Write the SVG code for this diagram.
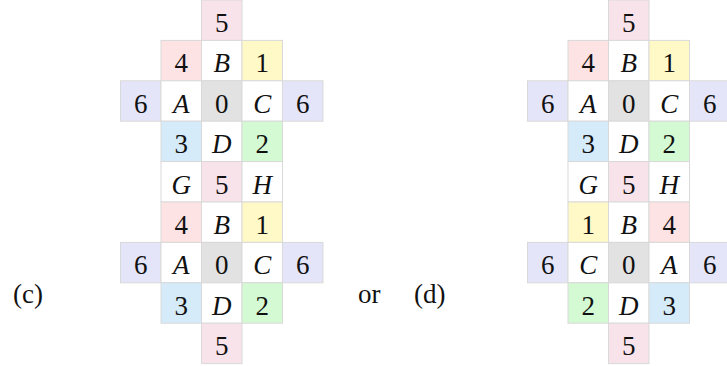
<svg xmlns="http://www.w3.org/2000/svg" width="727" height="366" viewBox="0 0 727 366">
<style>
rect{stroke:#d9d9d9;stroke-width:1;fill:#ffffff}
.p{fill:#f9e3ea}.r{fill:#fde3e3}.y{fill:#fef9c6}.v{fill:#e5e5fa}.g{fill:#e2e2e2}.b{fill:#d5ebf9}.n{fill:#d4fad4}
text{font-family:"Liberation Serif","DejaVu Serif",serif;font-size:27px;text-anchor:middle;fill:#111}
.i{font-style:italic}
.lab{text-anchor:start}
</style>
<rect x="0" y="0" width="727" height="366" style="fill:#fff;stroke:none"/>
<g id="c-diagram">
<g id="c-r0"><rect class="p" x="201.5" y="0" width="40.5" height="40.4"/><text x="221.7" y="32">5</text></g>
<g id="c-r1">
<rect class="r" x="161" y="40.4" width="40.5" height="40.4"/><text x="181.2" y="72.4">4</text>
<rect x="201.5" y="40.4" width="40.5" height="40.4"/><text class="i" x="221.7" y="72.4">B</text>
<rect class="y" x="242" y="40.4" width="40.5" height="40.4"/><text x="262.2" y="72.4">1</text>
</g>
<g id="c-r2">
<rect class="v" x="120.5" y="80.8" width="40.5" height="40.4"/><text x="140.7" y="112.8">6</text>
<rect x="161" y="80.8" width="40.5" height="40.4"/><text class="i" x="181.2" y="112.8">A</text>
<rect class="g" x="201.5" y="80.8" width="40.5" height="40.4"/><text x="221.7" y="112.8">0</text>
<rect x="242" y="80.8" width="40.5" height="40.4"/><text class="i" x="262.2" y="112.8">C</text>
<rect class="v" x="282.5" y="80.8" width="40.5" height="40.4"/><text x="302.7" y="112.8">6</text>
</g>
<g id="c-r3">
<rect class="b" x="161" y="121.2" width="40.5" height="40.4"/><text x="181.2" y="153.2">3</text>
<rect x="201.5" y="121.2" width="40.5" height="40.4"/><text class="i" x="221.7" y="153.2">D</text>
<rect class="n" x="242" y="121.2" width="40.5" height="40.4"/><text x="262.2" y="153.2">2</text>
</g>
<g id="c-r4">
<rect x="161" y="161.6" width="40.5" height="40.4"/><text class="i" x="181.2" y="193.6">G</text>
<rect class="p" x="201.5" y="161.6" width="40.5" height="40.4"/><text x="221.7" y="193.6">5</text>
<rect x="242" y="161.6" width="40.5" height="40.4"/><text class="i" x="262.2" y="193.6">H</text>
</g>
<g id="c-r5">
<rect class="r" x="161" y="202" width="40.5" height="40.4"/><text x="181.2" y="234">4</text>
<rect x="201.5" y="202" width="40.5" height="40.4"/><text class="i" x="221.7" y="234">B</text>
<rect class="y" x="242" y="202" width="40.5" height="40.4"/><text x="262.2" y="234">1</text>
</g>
<g id="c-r6">
<rect class="v" x="120.5" y="242.4" width="40.5" height="40.4"/><text x="140.7" y="274.4">6</text>
<rect x="161" y="242.4" width="40.5" height="40.4"/><text class="i" x="181.2" y="274.4">A</text>
<rect class="g" x="201.5" y="242.4" width="40.5" height="40.4"/><text x="221.7" y="274.4">0</text>
<rect x="242" y="242.4" width="40.5" height="40.4"/><text class="i" x="262.2" y="274.4">C</text>
<rect class="v" x="282.5" y="242.4" width="40.5" height="40.4"/><text x="302.7" y="274.4">6</text>
</g>
<g id="c-r7">
<rect class="b" x="161" y="282.8" width="40.5" height="40.4"/><text x="181.2" y="314.8">3</text>
<rect x="201.5" y="282.8" width="40.5" height="40.4"/><text class="i" x="221.7" y="314.8">D</text>
<rect class="n" x="242" y="282.8" width="40.5" height="40.4"/><text x="262.2" y="314.8">2</text>
</g>
<g id="c-r8"><rect class="p" x="201.5" y="323.2" width="40.5" height="40.4"/><text x="221.7" y="355.2">5</text></g>
</g>
<g id="d-diagram">
<g id="d-r0"><rect class="p" x="608.5" y="0" width="40.5" height="40.4"/><text x="628.7" y="32">5</text></g>
<g id="d-r1">
<rect class="r" x="568" y="40.4" width="40.5" height="40.4"/><text x="588.2" y="72.4">4</text>
<rect x="608.5" y="40.4" width="40.5" height="40.4"/><text class="i" x="628.7" y="72.4">B</text>
<rect class="y" x="649" y="40.4" width="40.5" height="40.4"/><text x="669.2" y="72.4">1</text>
</g>
<g id="d-r2">
<rect class="v" x="527.5" y="80.8" width="40.5" height="40.4"/><text x="547.7" y="112.8">6</text>
<rect x="568" y="80.8" width="40.5" height="40.4"/><text class="i" x="588.2" y="112.8">A</text>
<rect class="g" x="608.5" y="80.8" width="40.5" height="40.4"/><text x="628.7" y="112.8">0</text>
<rect x="649" y="80.8" width="40.5" height="40.4"/><text class="i" x="669.2" y="112.8">C</text>
<rect class="v" x="689.5" y="80.8" width="40.5" height="40.4"/><text x="709.7" y="112.8">6</text>
</g>
<g id="d-r3">
<rect class="b" x="568" y="121.2" width="40.5" height="40.4"/><text x="588.2" y="153.2">3</text>
<rect x="608.5" y="121.2" width="40.5" height="40.4"/><text class="i" x="628.7" y="153.2">D</text>
<rect class="n" x="649" y="121.2" width="40.5" height="40.4"/><text x="669.2" y="153.2">2</text>
</g>
<g id="d-r4">
<rect x="568" y="161.6" width="40.5" height="40.4"/><text class="i" x="588.2" y="193.6">G</text>
<rect class="p" x="608.5" y="161.6" width="40.5" height="40.4"/><text x="628.7" y="193.6">5</text>
<rect x="649" y="161.6" width="40.5" height="40.4"/><text class="i" x="669.2" y="193.6">H</text>
</g>
<g id="d-r5">
<rect class="y" x="568" y="202" width="40.5" height="40.4"/><text x="588.2" y="234">1</text>
<rect x="608.5" y="202" width="40.5" height="40.4"/><text class="i" x="628.7" y="234">B</text>
<rect class="r" x="649" y="202" width="40.5" height="40.4"/><text x="669.2" y="234">4</text>
</g>
<g id="d-r6">
<rect class="v" x="527.5" y="242.4" width="40.5" height="40.4"/><text x="547.7" y="274.4">6</text>
<rect x="568" y="242.4" width="40.5" height="40.4"/><text class="i" x="588.2" y="274.4">C</text>
<rect class="g" x="608.5" y="242.4" width="40.5" height="40.4"/><text x="628.7" y="274.4">0</text>
<rect x="649" y="242.4" width="40.5" height="40.4"/><text class="i" x="669.2" y="274.4">A</text>
<rect class="v" x="689.5" y="242.4" width="40.5" height="40.4"/><text x="709.7" y="274.4">6</text>
</g>
<g id="d-r7">
<rect class="n" x="568" y="282.8" width="40.5" height="40.4"/><text x="588.2" y="314.8">2</text>
<rect x="608.5" y="282.8" width="40.5" height="40.4"/><text class="i" x="628.7" y="314.8">D</text>
<rect class="b" x="649" y="282.8" width="40.5" height="40.4"/><text x="669.2" y="314.8">3</text>
</g>
<g id="d-r8"><rect class="p" x="608.5" y="323.2" width="40.5" height="40.4"/><text x="628.7" y="355.2">5</text></g>
</g>
<g id="labels">
<text class="lab" x="13" y="303">(c)</text>
<text class="lab" x="358" y="303">or</text>
<text class="lab" x="414" y="303">(d)</text>
</g>
</svg>
